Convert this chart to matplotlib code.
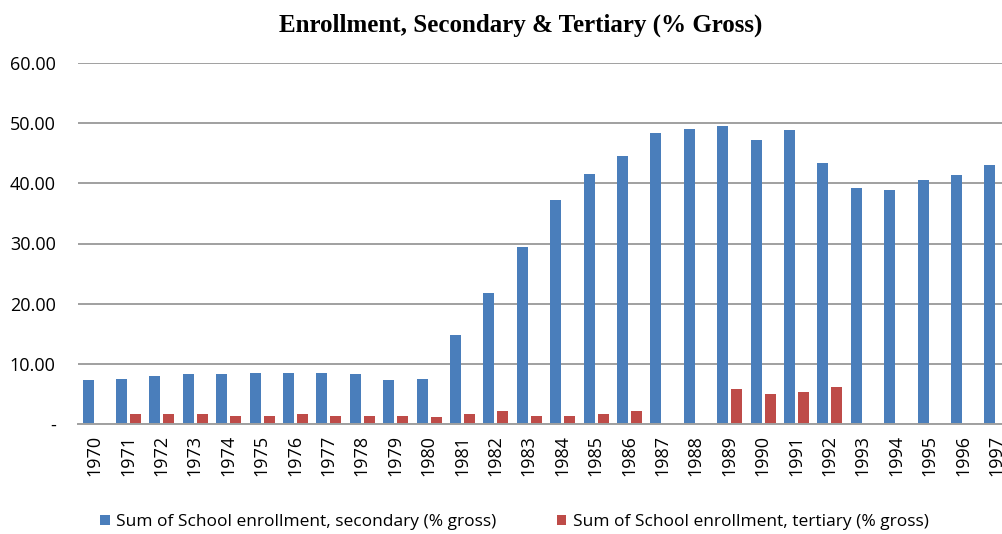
import numpy as np
import matplotlib
matplotlib.use("Agg")
import matplotlib.pyplot as plt
from matplotlib.ticker import FuncFormatter

years = [str(y) for y in range(1970, 1998)]
secondary = [7.3, 7.5, 8.0, 8.3, 8.3, 8.5, 8.5, 8.5, 8.3, 7.3, 7.5, 14.8, 21.7, 29.5,
             37.2, 41.6, 44.6, 48.3, 49.1, 49.6, 47.2, 48.9, 43.4, 39.2, 38.9, 40.6,
             41.4, 43.1]
tertiary = [np.nan, 1.6, 1.6, 1.6, 1.4, 1.4, 1.6, 1.4, 1.4, 1.4, 1.1, 1.6, 2.1, 1.4,
            1.4, 1.6, 2.1, np.nan, np.nan, 5.8, 5.0, 5.4, 6.1, np.nan, np.nan, np.nan,
            np.nan, np.nan]

blue = "#4a7ebb"
red = "#be4b48"

fig = plt.figure(figsize=(10.03, 5.34), dpi=100)
ax = fig.add_axes([78 / 1003, 110 / 534, (1003 - 78) / 1003, 361 / 534])

x = np.arange(len(years))
w = 0.33
ax.bar(x - 0.2, secondary, w, color=blue, label="Sum of School enrollment, secondary (% gross)")
ax.bar(x + 0.22, tertiary, w, color=red, label="Sum of School enrollment, tertiary (% gross)")

ax.set_ylim(0, 60)
# chart is cropped on the right, 1997 only partly visible
ax.set_xlim(-0.5, -0.5 + (1003 - 78) / 33.4)
ax.set_yticks(np.arange(0, 61, 10))
ax.yaxis.set_major_formatter(FuncFormatter(lambda v, p: "-" if v == 0 else f"{v:.2f}"))
ax.grid(axis="y", color="#a0a0a0", linewidth=1.4)
ax.set_axisbelow(True)
for s in ["top", "right", "left"]:
    ax.spines[s].set_visible(False)
ax.spines["bottom"].set_color("#a0a0a0")
ax.spines["bottom"].set_linewidth(1.4)

ax.set_xticks(x)
ax.set_xticklabels(years, rotation=90, fontsize=13, family="Open Sans")
ax.tick_params(axis="x", length=0, pad=8)
ax.tick_params(axis="y", length=0, labelsize=13, pad=16)
for lbl in ax.get_yticklabels():
    lbl.set_family("Open Sans")

fig.text(0.519, 0.952, "Enrollment, Secondary & Tertiary (% Gross)", ha="center", va="center",
         fontsize=18, fontweight="bold", family="Liberation Serif")

fig.legend(loc="center left", bbox_to_anchor=(0.1, 0.022), ncol=2, frameon=False,
           prop={"family": "Open Sans", "size": 12.5}, handlelength=0.55, handleheight=0.55,
           handletextpad=0.35, columnspacing=3.5, borderpad=0, borderaxespad=0)

fig.savefig("out.png", dpi=100)
